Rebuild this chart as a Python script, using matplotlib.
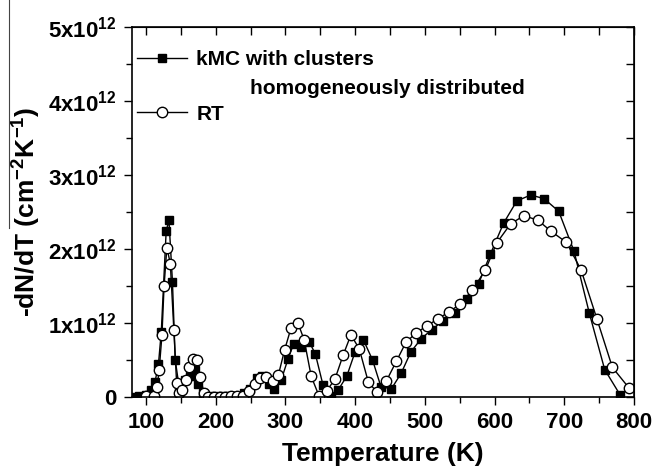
import numpy as np
import matplotlib
matplotlib.use("Agg")
import matplotlib.pyplot as plt
from matplotlib.lines import Line2D
from matplotlib.ticker import MultipleLocator, FuncFormatter

plt.rcParams['font.family'] = ['Liberation Sans', 'DejaVu Sans']
plt.rcParams['font.weight'] = 'bold'
plt.rcParams['mathtext.fontset'] = 'custom'
plt.rcParams['mathtext.rm'] = 'Liberation Sans:bold'
plt.rcParams['mathtext.default'] = 'rm'

# kMC with clusters homogeneously distributed (T in K, -dN/dT in 1e12 cm^-2 K^-1)
kmc_T = [80, 90, 100, 107, 113, 118, 122, 129, 133, 138, 142, 148, 156, 163, 170, 175, 182,
         190, 200, 210, 220, 230, 240, 249, 259, 266, 276, 284, 294, 304, 312, 322, 334, 343,
         354, 365, 376, 388, 400, 412, 425, 437, 452, 466, 480, 495, 510, 526, 543, 560, 577,
         594, 613, 632, 652, 671, 692, 714, 736, 758, 780]
kmc_v = [0.0, 0.01, 0.03, 0.09, 0.2, 0.45, 0.88, 2.24, 2.39, 1.56, 0.5, 0.11, 0.23, 0.29, 0.37, 0.18, 0.05,
         0.01, 0.01, 0.01, 0.01, 0.02, 0.05, 0.11, 0.26, 0.29, 0.18, 0.11, 0.23, 0.52, 0.72, 0.68, 0.75, 0.58,
         0.16, 0.02, 0.1, 0.28, 0.61, 0.77, 0.5, 0.14, 0.11, 0.32, 0.61, 0.79, 0.91, 1.03, 1.14, 1.32, 1.53,
         1.93, 2.35, 2.65, 2.73, 2.68, 2.51, 1.97, 1.13, 0.37, 0.03]

# RT
rt_T = [100, 111, 116, 119, 123, 126, 130, 135, 140, 144, 148, 152, 158, 162, 168, 173, 178, 183,
        189, 197, 206, 214, 222, 231, 239, 248, 257, 264, 272, 282, 290, 299, 308, 318, 327, 337,
        348, 359, 371, 383, 394, 406, 419, 431, 445, 459, 473, 488, 503, 519, 535, 551, 568, 587,
        603, 623, 642, 662, 681, 703, 724, 747, 769, 793]
rt_v = [0.01, 0.02, 0.14, 0.37, 0.84, 1.5, 2.02, 1.8, 0.91, 0.19, 0.05, 0.1, 0.23, 0.4, 0.52, 0.5, 0.27, 0.06,
        0.0, 0.0, 0.0, 0.0, 0.01, 0.01, 0.02, 0.08, 0.18, 0.26, 0.27, 0.22, 0.3, 0.64, 0.93, 1.0, 0.77, 0.28,
        0.02, 0.08, 0.24, 0.57, 0.84, 0.65, 0.2, 0.07, 0.22, 0.48, 0.74, 0.87, 0.96, 1.06, 1.15, 1.26, 1.44, 1.72,
        2.08, 2.34, 2.45, 2.39, 2.24, 2.09, 1.72, 1.05, 0.4, 0.12]

kmc_v = np.array(kmc_v) * 1e12
rt_v = np.array(rt_v) * 1e12

fig = plt.figure(figsize=(6.54, 4.66), dpi=100)
ax = fig.add_axes([132 / 654, 69 / 466, 502 / 654, 370 / 466])

ax.plot(kmc_T, kmc_v, color='black', lw=1.0, marker='s', ms=6, mfc='black', mec='black',
        label='kMC with clusters')
ax.plot(rt_T, rt_v, color='black', lw=1.0, marker='o', ms=7.5, mfc='white', mec='black', mew=1.0,
        label='RT')

ax.set_xlim(80, 800)
ax.set_ylim(0, 5e12)
ax.xaxis.set_major_locator(MultipleLocator(100))
ax.xaxis.set_minor_locator(MultipleLocator(50))
ax.yaxis.set_major_locator(MultipleLocator(1e12))
ax.yaxis.set_minor_locator(MultipleLocator(0.5e12))


def yfmt(v, pos):
    n = int(round(v / 1e12))
    if n == 0:
        return '0'
    return '%dx10$^{12}$' % n


ax.yaxis.set_major_formatter(FuncFormatter(yfmt))
ax.tick_params(which='major', direction='out', length=6, width=1, labelsize=16, pad=5)
ax.tick_params(which='minor', direction='out', length=4, width=1)

# top and right axes with inward ticks, no labels
top = ax.secondary_xaxis('top')
top.xaxis.set_major_locator(MultipleLocator(100))
top.xaxis.set_minor_locator(MultipleLocator(50))
top.tick_params(which='both', direction='in', length=6, width=1, labeltop=False)
right = ax.secondary_yaxis('right')
right.yaxis.set_major_locator(MultipleLocator(1e12))
right.yaxis.set_minor_locator(MultipleLocator(0.5e12))
right.tick_params(which='both', direction='in', length=6, width=1, labelright=False)

for s in ax.spines.values():
    s.set_linewidth(1.2)

ax.set_xlabel('Temperature (K)', fontsize=19, fontweight='bold', labelpad=6)
ax.set_ylabel('-dN/dT (cm$^{-2}$K$^{-1}$)', fontsize=19, fontweight='bold', labelpad=4)

ax.legend(loc='upper left', bbox_to_anchor=(-0.007, 0.96), frameon=False, fontsize=15,
          handlelength=2.4, handletextpad=0.45, labelspacing=1.7, borderaxespad=0)
ax.text(0.235, 0.835, 'homogeneously distributed', transform=ax.transAxes,
        fontsize=15, fontweight='bold', va='center', ha='left')

# stray vertical line at the left edge of the figure
fig.add_artist(Line2D([9 / 654, 9 / 654], [1.0, 1 - 228 / 466], color='#444444', lw=0.8))

fig.savefig('out.png', dpi=100)
